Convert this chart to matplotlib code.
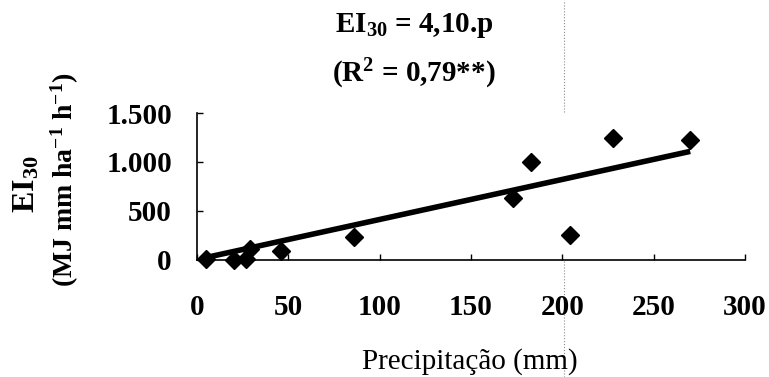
import matplotlib
matplotlib.use("Agg")
import matplotlib.pyplot as plt
from matplotlib.lines import Line2D

plt.rcParams['font.family'] = ['Liberation Serif', 'DejaVu Serif']
plt.rcParams['mathtext.fontset'] = 'custom'
plt.rcParams['mathtext.rm'] = 'Liberation Serif'
plt.rcParams['mathtext.it'] = 'Liberation Serif:italic'
plt.rcParams['mathtext.bf'] = 'Liberation Serif:bold'

# data
precip = [5, 20, 27, 29, 46, 86, 173, 183, 204, 228, 270]
ei30 = [5, 0, 10, 110, 90, 230, 625, 1000, 250, 1240, 1225]
slope = 4.10

xticks = [0, 50, 100, 150, 200, 250, 300]
xtick_labels = ['0', '50', '100', '150', '200', '250', '300']
yticks = [0, 500, 1000, 1500]
ytick_labels = ['0', '500', '1.000', '1.500']

W, H = 769, 377
fig = plt.figure(figsize=(W / 100, H / 100), dpi=100)
ax = fig.add_axes([197 / W, 1 - 259.5 / H, 548 / W, 146.5 / H])

# regression line from the fitted equation
fit_x = [min(precip), max(precip)]
fit_y = [slope * v for v in fit_x]
ax.plot(fit_x, fit_y, '-', color='black', lw=4, solid_capstyle='butt', zorder=3)
ax.plot(precip, ei30, 'D', color='black', ms=9.5, clip_on=False, zorder=4)

ax.set_xlim(0, 300)
ax.set_ylim(0, 1500)
ax.set_xticks(xticks)
ax.set_xticklabels(xtick_labels)
ax.set_yticks(yticks)
ax.set_yticklabels(ytick_labels)

for s in ['top', 'right']:
    ax.spines[s].set_visible(False)
for s in ['left', 'bottom']:
    ax.spines[s].set_linewidth(1.2)

ax.tick_params(axis='x', direction='in', length=4, width=1, pad=25, labelsize=21)
ax.tick_params(axis='y', direction='in', length=4, width=1, pad=18, labelsize=21)
for lab in ax.get_xticklabels() + ax.get_yticklabels():
    lab.set_fontweight('bold')

# title lines
fig.text(414 / W, 1 - 32 / H, r'$\mathbf{EI_{30}}$ = 4,10.p', ha='center',
         va='baseline', fontsize=21, fontweight='bold')
fig.text(414 / W, 1 - 82 / H, r'($\mathbf{R^{2}}$ = 0,79**)', ha='center',
         va='baseline', fontsize=21, fontweight='bold')

# axis labels
fig.text(470 / W, 1 - 369 / H, 'Precipitação (mm)', ha='center', va='baseline',
         fontsize=21)
fig.text(27 / W, 1 - 184 / H, r'$\mathbf{EI_{30}}$', rotation=90,
         ha='center', va='center', fontsize=23)
fig.text(65 / W, 1 - 180 / H,
         '(MJ mm ha$\\mathbf{^{-1}}$ h$\\mathbf{^{-1}}$)',
         rotation=90, ha='center', va='center', fontsize=20, fontweight='bold')

# faint scan crease
fig.add_artist(Line2D([564 / W, 564 / W], [0, 1], transform=fig.transFigure,
                      color='0.55', lw=0.8, ls=':', zorder=0))

fig.savefig('out.png', dpi=100)
